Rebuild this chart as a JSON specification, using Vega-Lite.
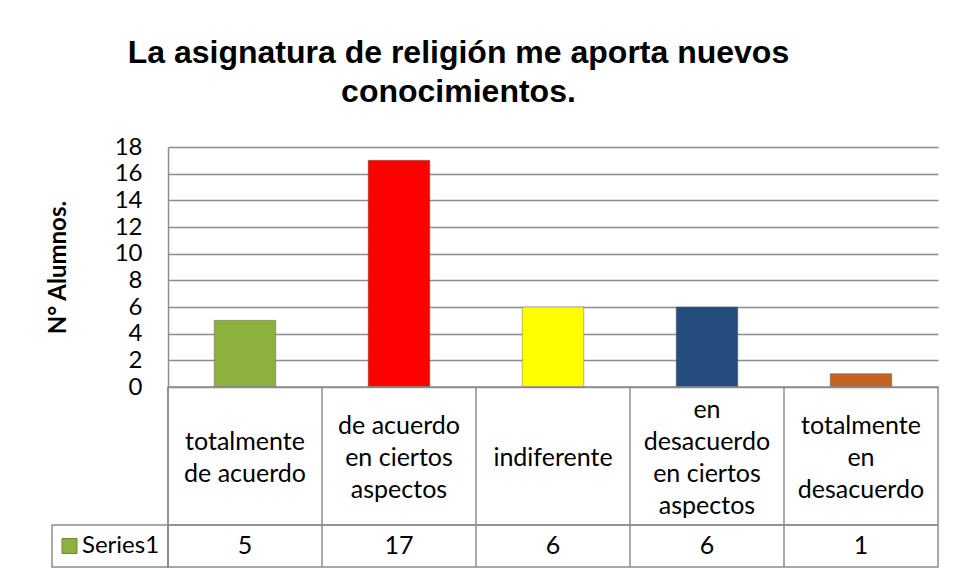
{
  "$schema": "https://vega.github.io/schema/vega-lite/v6.json",
  "background": "white",
  "padding": {"left": 46, "top": 37, "right": 5, "bottom": 5},
  "title": {
    "text": ["La asignatura de religión me aporta nuevos", "conocimientos."],
    "font": "Liberation Sans",
    "fontWeight": "bold",
    "fontSize": 32,
    "lineHeight": 39,
    "color": "black",
    "anchor": "middle",
    "offset": 26,
    "dx": -34
  },
  "datasets": {
    "respuestas": [
      {"respuesta": "totalmente de acuerdo", "etiqueta": "totalmente\nde acuerdo", "alumnos": 5},
      {"respuesta": "de acuerdo en ciertos aspectos", "etiqueta": "de acuerdo\nen ciertos\naspectos", "alumnos": 17},
      {"respuesta": "indiferente", "etiqueta": "indiferente", "alumnos": 6},
      {"respuesta": "en desacuerdo en ciertos aspectos", "etiqueta": "en\ndesacuerdo\nen ciertos\naspectos", "alumnos": 6},
      {"respuesta": "totalmente en desacuerdo", "etiqueta": "totalmente\nen\ndesacuerdo", "alumnos": 1}
    ],
    "serie": [{"serie": "Series1"}]
  },
  "columns": 2,
  "spacing": 0,
  "bounds": "flush",
  "concat": [
    {
      "width": 116, "height": 240,
      "data": {"values": []},
      "mark": {"type": "text"},
      "encoding": {}
    },
    {
      "width": 770, "height": 240,
      "data": {"name": "respuestas"},
      "mark": {"type": "bar", "stroke": "#5a5a5a", "strokeWidth": 1, "strokeOpacity": 0.45},
      "encoding": {
        "x": {
          "field": "respuesta", "type": "nominal", "sort": null,
          "scale": {"paddingInner": 0.6, "paddingOuter": 0.3},
          "axis": null
        },
        "y": {
          "field": "alumnos", "type": "quantitative",
          "scale": {"domain": [0, 18], "nice": false},
          "axis": {
            "values": [0, 2, 4, 6, 8, 10, 12, 14, 16, 18],
            "title": "N° Alumnos.",
            "titleFont": "Lato", "titleFontSize": 24, "titleFontWeight": "bold", "titleColor": "black",
            "titlePadding": 44,
            "labelFont": "Lato", "labelFontSize": 24, "labelColor": "black", "labelPadding": 26,
            "labelFlush": false,
            "ticks": false,
            "domainColor": "#8c8c8c", "domainWidth": 1.5,
            "gridColor": "#8c8c8c", "gridWidth": 1.5
          }
        },
        "color": {
          "field": "respuesta", "type": "nominal", "sort": null, "legend": null,
          "scale": {"range": ["#8DB13F", "#FF0000", "#FFFF00", "#244C7F", "#C4651F"]}
        }
      }
    },
    {
      "width": 116, "height": 138,
      "data": {"values": []},
      "mark": {"type": "text"},
      "encoding": {}
    },
    {
      "width": 770, "height": 138,
      "data": {"name": "respuestas"},
      "view": {"stroke": "#8c8c8c", "strokeWidth": 1.5},
      "layer": [
        {
          "mark": {"type": "rule", "color": "#8c8c8c", "strokeWidth": 1.5},
          "encoding": {
            "x": {"field": "respuesta", "type": "nominal", "sort": null, "bandPosition": 0, "scale": {"paddingInner": 0, "paddingOuter": 0}, "axis": null}
          }
        },
        {
          "transform": [{"calculate": "length(split(datum.etiqueta, '\\n'))", "as": "lineas"}],
          "mark": {"type": "text", "font": "Lato", "fontSize": 25, "lineHeight": 32, "lineBreak": "\n", "color": "black", "baseline": "middle"},
          "encoding": {
            "x": {"field": "respuesta", "type": "nominal", "sort": null, "axis": null},
            "y": {"field": "lineas", "type": "quantitative", "scale": {"domain": [-3.1875, 5.4375], "nice": false, "zero": false}, "axis": null},
            "text": {"field": "etiqueta"}
          }
        }
      ]
    },
    {
      "width": 116, "height": 42,
      "data": {"name": "serie"},
      "view": {"stroke": "#8c8c8c", "strokeWidth": 1.5},
      "layer": [
        {
          "mark": {"type": "point", "shape": "square", "filled": true, "size": 225, "color": "#8DB13F", "stroke": "#6d8a30", "strokeWidth": 1, "opacity": 1, "xOffset": -40.5},
          "encoding": {}
        },
        {
          "mark": {"type": "text", "font": "Lato", "fontSize": 24, "color": "black", "align": "left", "baseline": "middle", "dx": -28},
          "encoding": {"text": {"field": "serie"}}
        }
      ]
    },
    {
      "width": 770, "height": 42,
      "data": {"name": "respuestas"},
      "view": {"stroke": "#8c8c8c", "strokeWidth": 1.5},
      "layer": [
        {
          "mark": {"type": "rule", "color": "#8c8c8c", "strokeWidth": 1.5},
          "encoding": {
            "x": {"field": "respuesta", "type": "nominal", "sort": null, "bandPosition": 0, "scale": {"paddingInner": 0, "paddingOuter": 0}, "axis": null}
          }
        },
        {
          "mark": {"type": "text", "font": "Lato", "fontSize": 25, "color": "black", "baseline": "middle"},
          "encoding": {
            "x": {"field": "respuesta", "type": "nominal", "sort": null, "axis": null},
            "text": {"field": "alumnos"}
          }
        }
      ]
    }
  ],
  "config": {
    "view": {"stroke": null},
    "font": "Lato"
  }
}
